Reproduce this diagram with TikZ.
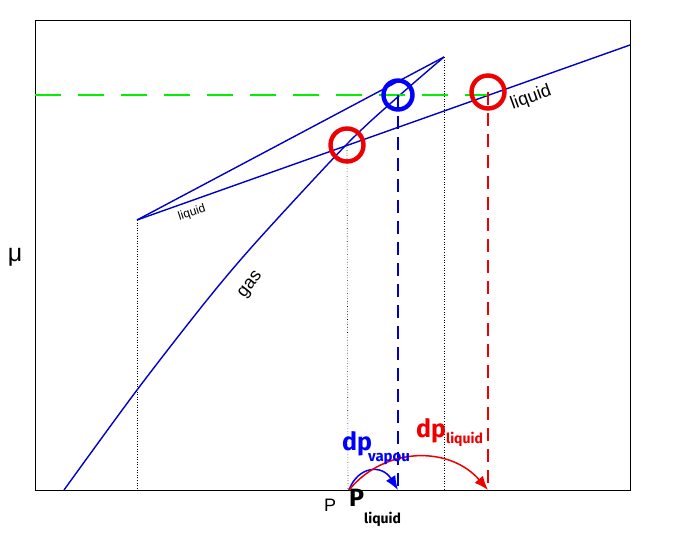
\documentclass[tikz,border=0pt]{standalone}
\usepackage{fontspec}
\setmainfont{Liberation Sans}
\newfontfamily\handfont{Fira Sans}
\usetikzlibrary{arrows.meta, calc}
\definecolor{curveblue}{HTML}{0000C8}
\definecolor{ringred}{HTML}{EE0000}
\definecolor{ringblue}{HTML}{0000FF}
\definecolor{levelgreen}{HTML}{00F000}
\tikzset{
  curve/.style={draw=curveblue, line width=1.4pt},
  guide/.style={draw=black, line width=0.6pt, dotted},
  ring/.style={circle, draw=ringred, line width=4.4pt, minimum size=33pt, inner sep=0pt},
  vring/.style={ring, draw=ringblue, minimum size=29pt},
  drop/.style={line width=1.7pt, dash pattern=on 13pt off 8pt},
  pshift/.style={-{Latex[length=14pt, width=11pt]}, line width=1.5pt},
  lbl/.style={inner sep=0pt, font=\fontsize{18}{18}\selectfont},
  hand/.style={inner sep=0pt, anchor=base west, font=\handfont\bfseries\fontsize{25}{25}\selectfont}
}

\begin{document}
\begin{tikzpicture}[x=1pt, y=-1pt]
\useasboundingbox (0,0) rectangle (680,540);
% axes box
\draw[line width=0.8pt] (35,20) rectangle (630,490);
% points of the plot
\coordinate (start) at (137,220);
\coordinate (cross) at (347,145);
\coordinate (top) at (444,57);
\coordinate (pliq) at (349,490);
\coordinate (pvap) at (398,490);
\coordinate (pdrop) at (488,490);
% dotted guides
\draw[guide] (start) -- (137,490);
\draw[guide] (cross) -- (348,490);
\draw[guide] (top) -- (444,490);
% chemical potential curves
\draw[curve] (start) -- (630,45);
\draw[curve] (start) -- (top);
\draw[curve] plot[smooth, tension=0.5] coordinates {(64,490) (137,390) (207,300) (258,240) (348,143) (400,95) (top)};
% equal chemical potential level
\draw[levelgreen, line width=1.6pt, dash pattern=on 26pt off 17pt] (35,95) -- (488,95);
% rings
\node[ring] (rcross) at (cross) {};
\node[vring] (bring) at (398,95) {};
\node[ring] (rring) at (488,92) {};
\draw[drop, curveblue] (bring.center) -- (pvap);
\draw[drop, ringred] (rring.center) -- (pdrop);
% pressure shifts
\draw[pshift, ringblue] (pliq) .. controls (358,466) and (382,464) .. (pvap);
\draw[pshift, ringred] (pliq) .. controls (385,446) and (450,446) .. (pdrop);
% labels
\node[lbl, font=\fontsize{25}{25}\selectfont] (mu) at (15,257) {μ};
\node[lbl] (p) at (330,505) {P};
\node[hand] (pl) at (349,506) {P\raisebox{-1.3ex}{\fontsize{14}{14}\selectfont liquid}};
\node[hand, ringblue] (dpv) at (342,450) {dp\hspace{-4pt}\raisebox{-0.9ex}{\fontsize{15}{15}\selectfont vapou}};
\node[hand, ringred] (dpl) at (416,437) {dp\raisebox{-0.5ex}{\fontsize{14}{14}\selectfont liquid}};
\node[lbl, rotate=20] (liq) at (531,98) {liquid};
\node[lbl, rotate=18, font=\fontsize{12}{12}\selectfont] (liqs) at (192,213) {liquid};
\node[lbl, rotate=52] (gas) at (251,285) {gas};
\end{tikzpicture}
\end{document}
